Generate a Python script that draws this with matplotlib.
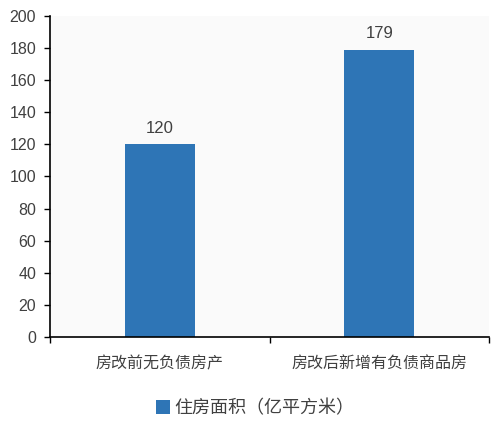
import matplotlib
matplotlib.use("Agg")
import matplotlib.pyplot as plt
from matplotlib.patches import Patch
import numpy as np

categories = ["房改前无负债房产", "房改后新增有负债商品房"]
values = [120, 179]
series_name = "住房面积（亿平方米）"
yticks = [0, 20, 40, 60, 80, 100, 120, 140, 160, 180, 200]

plt.rcParams['font.family'] = ['Noto Sans CJK SC', 'DejaVu Sans']
num_font = ['Liberation Sans', 'DejaVu Sans']
text_color = "#404040"
bar_color = "#2E75B6"

fig = plt.figure(figsize=(5, 4.29), dpi=100)
ax = fig.add_axes([0.1, 0.2145, 0.878, 0.7482])
ax.set_facecolor("#fafafa")

x = np.arange(len(categories))
bars = ax.bar(x, values, width=0.32, color=bar_color, zorder=2)
for xi, v in zip(x, values):
    ax.annotate(str(v), (xi, v), xytext=(0, 6), textcoords="offset points",
                ha="center", va="bottom", fontsize=12, color=text_color,
                family=num_font)

ax.set_xlim(-0.5, 1.5)
ax.set_ylim(0, 200)
ax.set_yticks(yticks)
ax.set_yticklabels([str(t) for t in yticks], fontsize=11.5, color=text_color,
                   family=num_font)
ax.set_xticks(x)
ax.set_xticklabels(categories, fontsize=11.5, color=text_color)
ax.tick_params(axis='x', length=0, pad=13)
ax.tick_params(axis='y', length=4, width=1, color="black", pad=6)
ax.set_xticks([-0.5, 0.5, 1.5], minor=True)
ax.tick_params(axis='x', which='minor', length=4, width=1, color="black")

for s in ["top", "right"]:
    ax.spines[s].set_visible(False)
for s in ["left", "bottom"]:
    ax.spines[s].set_color("black")
    ax.spines[s].set_linewidth(1.2)

handle = Patch(facecolor=bar_color, label=series_name)
fig.legend(handles=[handle], loc="center", bbox_to_anchor=(0.51, 0.048),
           frameon=False, fontsize=13, handlelength=0.75, handleheight=0.75,
           handletextpad=0.25, labelcolor=text_color)

fig.savefig("out.png", dpi=100, facecolor="white")
